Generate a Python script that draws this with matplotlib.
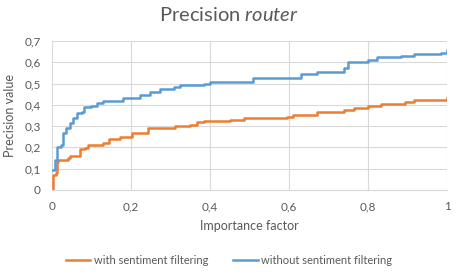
import matplotlib.pyplot as plt

# Importance factor breakpoints and precision values
with_x = [0, 0.003, 0.011, 0.013, 0.015, 0.04, 0.045, 0.066, 0.07, 0.083, 0.092, 0.13, 0.144,
          0.173, 0.198, 0.202, 0.244, 0.312, 0.35, 0.367, 0.384, 0.45, 0.486, 0.596, 0.61,
          0.672, 0.739, 0.764, 0.80, 0.834, 0.893, 0.917, 1.0]
with_y = [0, 0.07, 0.078, 0.133, 0.14, 0.15, 0.16, 0.16, 0.191, 0.196, 0.211, 0.219, 0.238,
          0.247, 0.25, 0.269, 0.29, 0.30, 0.305, 0.32, 0.325, 0.328, 0.336, 0.344, 0.35,
          0.367, 0.378, 0.383, 0.394, 0.404, 0.415, 0.423, 0.43]

without_x = [0, 0.007, 0.012, 0.024, 0.028, 0.036, 0.045, 0.054, 0.063, 0.075, 0.08, 0.10,
             0.113, 0.13, 0.181, 0.223, 0.249, 0.274, 0.308, 0.325, 0.384, 0.401, 0.45, 0.51,
             0.63, 0.672, 0.739, 0.75, 0.80, 0.824, 0.883, 0.917, 0.985, 1.0]
without_y = [0.094, 0.14, 0.203, 0.21, 0.266, 0.29, 0.313, 0.337, 0.363, 0.367, 0.388, 0.395,
             0.408, 0.419, 0.431, 0.446, 0.462, 0.473, 0.485, 0.493, 0.497, 0.505, 0.508, 0.524,
             0.543, 0.555, 0.571, 0.60, 0.613, 0.625, 0.628, 0.64, 0.643, 0.657]

x_ticks = [0, 0.2, 0.4, 0.6, 0.8, 1.0]
x_labels = ['0', '0,2', '0,4', '0,6', '0,8', '1']
y_ticks = [0, 0.1, 0.2, 0.3, 0.4, 0.5, 0.6, 0.7]
y_labels = ['0', '0,1', '0,2', '0,3', '0,4', '0,5', '0,6', '0,7']

plt.rcParams['font.family'] = ['Lato', 'DejaVu Sans']
plt.rcParams['mathtext.fontset'] = 'custom'
plt.rcParams['mathtext.rm'] = 'Lato'
plt.rcParams['mathtext.it'] = 'Lato:italic'

text_col = '#595959'
grid_col = '#D9D9D9'

fig = plt.figure(figsize=(4.58, 2.74), dpi=100)
ax = fig.add_axes([0.1135, 0.3066, 0.8625, 0.5438])

ax.plot(with_x, with_y, drawstyle='steps-post', color='#ED7D31', lw=1.8,
        label='with sentiment filtering')
ax.plot(without_x, without_y, drawstyle='steps-post', color='#5B9BD5', lw=1.8,
        label='without sentiment filtering')

ax.set_xlim(0, 1)
ax.set_ylim(0, 0.7)
ax.set_xticks(x_ticks)
ax.set_xticklabels(x_labels)
ax.set_yticks(y_ticks)
ax.set_yticklabels(y_labels)
ax.tick_params(length=0, labelsize=8.5, colors=text_col, pad=8)
ax.grid(True, color=grid_col, lw=0.8)
ax.set_axisbelow(True)
for s in ['top', 'right', 'left']:
    ax.spines[s].set_visible(False)
ax.spines['bottom'].set_color(grid_col)

ax.set_xlabel('Importance factor', fontsize=9, color=text_col, labelpad=6)
ax.set_ylabel('Precision value', fontsize=9, color=text_col, labelpad=6)

fig.text(0.5, 0.945, r'Precision $\mathit{router}$', ha='center', va='center',
         fontsize=14.5, color=text_col)

leg = fig.legend(loc='center', bbox_to_anchor=(0.5, 0.05), ncol=2, frameon=False,
                 fontsize=8, handlelength=2.2, handletextpad=0.3, columnspacing=2.3)
for t in leg.get_texts():
    t.set_color(text_col)

plt.savefig('out.png', dpi=100)
